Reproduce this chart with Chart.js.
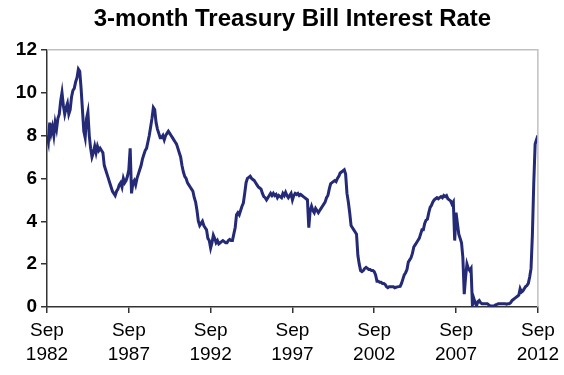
<!DOCTYPE html>
<html>
<head>
<meta charset="utf-8">
<script src="https://cdn.jsdelivr.net/npm/chart.js@4.4.1/dist/chart.umd.min.js"></script>
<style>
  html, body { margin: 0; padding: 0; background: #fff; }
  #wrap { width: 564px; height: 375px; }
</style>
</head>
<body>
<div id="wrap"><canvas id="myChart" width="564" height="375"></canvas></div>
<script>
// monthly 3-month T-bill rate, Sep 1982 .. Sep 2012
const startYear = 1982;
const startMonth = 8; // Sep
const rates = [
  8.0, 7.7, 8.6, 8.1,                                            // 1982 Sep-Dec
  8.4, 8.0, 8.6, 8.3, 8.8, 9.0, 9.6, 10.0, 9.4, 9.0, 9.3, 9.5,   // 1983
  9.0, 9.2, 9.8, 10.1, 10.2, 10.5, 10.7, 11.1, 11.0, 10.2, 9.2, 8.2, // 1984
  7.9, 8.8, 9.1, 8.0, 7.4, 7.0, 7.2, 7.5, 7.2, 7.5, 7.3, 7.4,    // 1985
  7.3, 7.2, 6.6, 6.4, 6.2, 6.0, 5.8, 5.6, 5.4, 5.3, 5.2, 5.4,    // 1986
  5.5, 5.7, 5.8, 5.6, 6.0, 5.8, 5.9, 6.1, 6.4, 7.4, 5.3, 5.8,    // 1987
  5.9, 5.7, 6.0, 6.2, 6.4, 6.6, 6.9, 7.1, 7.3, 7.4, 7.7, 8.0,    // 1988
  8.4, 8.8, 9.3, 9.2, 8.6, 8.3, 8.1, 7.9, 7.9, 8.0, 7.8, 8.0,    // 1989
  8.1, 8.2, 8.1, 8.0, 7.9, 7.8, 7.7, 7.6, 7.4, 7.2, 7.0, 6.6,    // 1990
  6.3, 6.1, 6.0, 5.8, 5.7, 5.6, 5.5, 5.4, 5.1, 4.9, 4.5, 4.0,    // 1991
  3.8, 3.9, 4.0, 3.8, 3.7, 3.6, 3.2, 3.1, 2.75, 3.0, 3.35, 3.2,  // 1992
  3.0, 3.1, 2.95, 3.0, 3.05, 3.1, 3.05, 3.0, 3.0, 3.1, 3.15, 3.1, // 1993
  3.1, 3.4, 3.7, 4.3, 4.4, 4.3, 4.5, 4.7, 4.85, 5.3, 5.8, 6.0,   // 1994
  6.05, 6.1, 6.0, 5.95, 5.9, 5.8, 5.7, 5.6, 5.55, 5.5, 5.3, 5.15, // 1995
  5.1, 5.0, 5.1, 5.2, 5.3, 5.2, 5.3, 5.2, 5.25, 5.1, 5.2, 5.15,  // 1996
  5.1, 5.3, 5.2, 5.35, 5.2, 5.1, 5.2, 5.3, 5.0, 5.2, 5.3, 5.25,  // 1997
  5.3, 5.2, 5.25, 5.2, 5.15, 5.1, 5.05, 5.0, 3.7, 4.5, 4.7, 4.5, // 1998
  4.4, 4.6, 4.5, 4.4, 4.5, 4.6, 4.7, 4.8, 4.9, 5.1, 5.2, 5.5,    // 1999
  5.75, 5.8, 5.85, 5.9, 5.85, 6.0, 6.1, 6.25, 6.3, 6.35, 6.4, 6.2, // 2000
  5.3, 4.9, 4.4, 3.8, 3.7, 3.6, 3.5, 3.4, 2.4, 2.0, 1.7, 1.65,   // 2001
  1.7, 1.8, 1.85, 1.8, 1.75, 1.75, 1.7, 1.7, 1.65, 1.5, 1.2, 1.2, // 2002
  1.15, 1.15, 1.1, 1.1, 1.05, 0.95, 0.9, 0.95, 0.95, 0.95, 0.95, 0.9, // 2003
  0.92, 0.94, 0.95, 0.96, 1.1, 1.3, 1.5, 1.6, 1.75, 2.1, 2.2, 2.3, // 2004
  2.5, 2.8, 2.9, 3.0, 3.1, 3.2, 3.4, 3.6, 3.6, 3.9, 4.05, 4.1,   // 2005
  4.4, 4.65, 4.75, 4.9, 5.0, 5.05, 5.1, 5.05, 5.1, 5.15, 5.1, 5.2, // 2006
  5.15, 5.2, 5.05, 5.0, 4.95, 4.8, 4.9, 3.1, 4.4, 3.9, 3.4, 3.2, // 2007
  3.0, 2.3, 0.6, 1.4, 2.0, 1.8, 1.7, 1.8, 0.1, 0.4, 0.2, 0.05,   // 2008
  0.25, 0.3, 0.2, 0.15, 0.15, 0.15, 0.15, 0.15, 0.1, 0.05, 0.05, 0.05, // 2009
  0.05, 0.1, 0.12, 0.15, 0.15, 0.15, 0.15, 0.15, 0.15, 0.13, 0.15, 0.15, // 2010
  0.2, 0.3, 0.35, 0.4, 0.45, 0.5, 0.55, 0.85, 0.7, 0.75, 0.85, 0.95, // 2011
  1.0, 1.1, 1.4, 1.8, 3.4, 5.8, 7.6, 7.8, 8.0                    // 2012 Jan-Sep
];
const tickYears = [1982, 1987, 1992, 1997, 2002, 2007, 2012];
const tickMonth = "Sep";
const yTicks = [0, 2, 4, 6, 8, 10, 12];

const points = rates.map((v, i) => ({ x: i, y: v }));

// light grey frame on top and right of the plot area
const frame = {
  id: "frame",
  afterDraw(chart) {
    const { ctx, chartArea: a } = chart;
    ctx.save();
    ctx.strokeStyle = "#c0c0c0";
    ctx.lineWidth = 1.5;
    ctx.beginPath();
    ctx.moveTo(a.left, a.top);
    ctx.lineTo(a.right, a.top);
    ctx.lineTo(a.right, a.bottom);
    ctx.stroke();
    ctx.restore();
  }
};

const ctx = document.getElementById("myChart").getContext("2d");
const myChart = new Chart(ctx, {
  type: "line",
  data: {
    datasets: [{
      label: "3-month T-bill",
      data: points,
      borderColor: "#242a75",
      borderWidth: 3,
      pointRadius: 0,
      tension: 0,
      fill: false
    }]
  },
  options: {
    responsive: false,
    animation: false,
    layout: { padding: { top: 0, right: 23, bottom: 0, left: 0 } },
    plugins: {
      legend: { display: false },
      tooltip: { enabled: false },
      title: {
        display: true,
        fullSize: false,
        text: "3-month Treasury Bill Interest Rate",
        color: "#000",
        font: { family: "Liberation Sans", size: 24, weight: "bold", lineHeight: 1.2 },
        padding: { top: 5, bottom: 16 }
      }
    },
    scales: {
      x: {
        type: "linear",
        min: 0,
        max: rates.length - 1,
        afterBuildTicks: (s) => {
          s.ticks = tickYears.map(y => ({ value: (y - startYear) * 12 + (8 - startMonth) }));
        },
        afterFit: (s) => { s.height = 68; },
        grid: {
          drawOnChartArea: false,
          drawTicks: true,
          tickLength: 6,
          color: "#333",
          lineWidth: 1.5
        },
        border: { color: "#333", width: 1.5 },
        ticks: {
          padding: 5,
          maxRotation: 0,
          autoSkip: false,
          color: "#000",
          font: { family: "Liberation Sans", size: 19, lineHeight: 1.3 },
          callback: (v) => [tickMonth, String(startYear + Math.round(v / 12))]
        }
      },
      y: {
        min: 0,
        max: 12,
        afterBuildTicks: (s) => { s.ticks = yTicks.map(v => ({ value: v })); },
        afterFit: (s) => { s.width = 47; },
        grid: {
          drawOnChartArea: false,
          drawTicks: true,
          tickLength: 6,
          color: "#333",
          lineWidth: 1.5
        },
        border: { color: "#333", width: 1.5 },
        ticks: {
          padding: 4,
          color: "#000",
          font: { family: "Liberation Sans", size: 19, weight: "bold" }
        }
      }
    }
  },
  plugins: [frame]
});
</script>
</body>
</html>
